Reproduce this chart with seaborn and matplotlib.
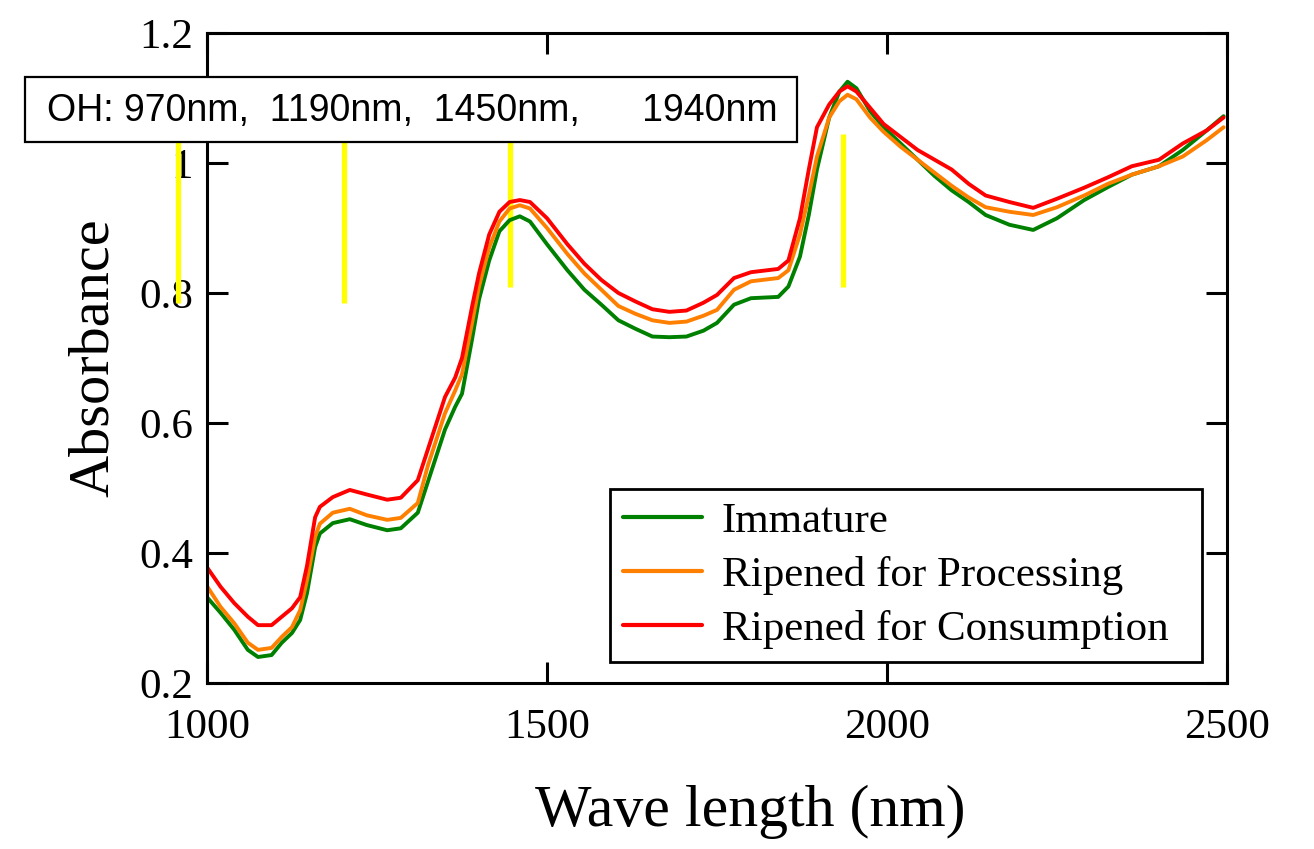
import matplotlib
matplotlib.use("Agg")
import matplotlib.pyplot as plt
from matplotlib.patches import Rectangle
import seaborn as sns
import pandas as pd

# ---- data ----
wavelength = [1000, 1020, 1040, 1060, 1075, 1095, 1110, 1125, 1137, 1147, 1159, 1166, 1185, 1210,
              1235, 1265, 1285, 1310, 1325, 1350, 1365, 1375, 1390, 1400, 1415, 1430, 1445, 1460,
              1475, 1500, 1530, 1555, 1580, 1605, 1630, 1655, 1680, 1705, 1730, 1750, 1775, 1800,
              1840, 1855, 1872, 1885, 1897, 1915, 1930, 1942, 1955, 1975, 1995, 2020, 2045, 2070,
              2095, 2120, 2145, 2180, 2215, 2250, 2290, 2325, 2360, 2400, 2435, 2470, 2495]

immature = [0.332, 0.308, 0.282, 0.251, 0.240, 0.243, 0.262, 0.277, 0.297, 0.338, 0.409, 0.430, 0.446, 0.452,
            0.443, 0.435, 0.438, 0.462, 0.510, 0.590, 0.625, 0.645, 0.730, 0.790, 0.850, 0.895, 0.912, 0.918,
            0.910, 0.875, 0.835, 0.805, 0.782, 0.758, 0.745, 0.733, 0.732, 0.733, 0.742, 0.754, 0.782, 0.792,
            0.794, 0.810, 0.856, 0.920, 0.990, 1.070, 1.110, 1.125, 1.115, 1.080, 1.055, 1.030, 1.005, 0.980,
            0.958, 0.940, 0.920, 0.905, 0.897, 0.915, 0.943, 0.963, 0.982, 0.995, 1.020, 1.050, 1.072]

ripened_processing = [0.349, 0.317, 0.292, 0.262, 0.251, 0.254, 0.271, 0.286, 0.312, 0.358, 0.425, 0.445, 0.462, 0.468,
                      0.458, 0.451, 0.454, 0.477, 0.535, 0.615, 0.650, 0.675, 0.755, 0.810, 0.870, 0.910, 0.930, 0.935,
                      0.930, 0.900, 0.860, 0.830, 0.805, 0.780, 0.768, 0.758, 0.754, 0.756, 0.765, 0.774, 0.805, 0.818,
                      0.823, 0.835, 0.890, 0.950, 1.010, 1.070, 1.095, 1.105, 1.098, 1.070, 1.048, 1.025, 1.005, 0.985,
                      0.965, 0.947, 0.932, 0.925, 0.920, 0.932, 0.950, 0.968, 0.982, 0.995, 1.010, 1.035, 1.055]

ripened_consumption = [0.378, 0.348, 0.323, 0.302, 0.289, 0.289, 0.302, 0.315, 0.332, 0.380, 0.455, 0.471, 0.486, 0.497,
                       0.490, 0.482, 0.485, 0.512, 0.560, 0.640, 0.670, 0.700, 0.780, 0.830, 0.890, 0.925, 0.940, 0.943,
                       0.940, 0.915, 0.875, 0.845, 0.820, 0.800, 0.787, 0.775, 0.771, 0.773, 0.785, 0.797, 0.823, 0.832,
                       0.837, 0.850, 0.915, 0.990, 1.055, 1.090, 1.110, 1.118, 1.110, 1.085, 1.060, 1.040, 1.020, 1.005,
                       0.990, 0.968, 0.950, 0.940, 0.931, 0.945, 0.962, 0.978, 0.995, 1.005, 1.030, 1.050, 1.070]

series_names = ["Immature", "Ripened for Processing", "Ripened for Consumption"]
series_colors = ["#008000", "#FF8000", "#FF0000"]

xticks = [1000, 1500, 2000, 2500]
yticks = [0.2, 0.4, 0.6, 0.8, 1.0, 1.2]
ytick_labels = ["0.2", "0.4", "0.6", "0.8", "1", "1.2"]

oh_marker_nm = [957, 1201, 1446, 1935]
oh_marker_bottom = [0.785, 0.785, 0.809, 0.809]
oh_marker_top = 1.045
oh_text = "OH: 970nm,  1190nm,  1450nm,      1940nm"

# ---- frame ----
frames = []
for name, vals in zip(series_names, [immature, ripened_processing, ripened_consumption]):
    frames.append(pd.DataFrame({"Wavelength": wavelength, "Absorbance": vals, "Sample": name}))
df = pd.concat(frames, ignore_index=True)

sns.set_theme(style="ticks")
plt.rcParams["font.family"] = ["Liberation Serif", "DejaVu Serif"]
plt.rcParams["text.color"] = "black"
plt.rcParams["axes.labelcolor"] = "black"

W, H = 1314, 849
fig = plt.figure(figsize=(W / 100, H / 100), dpi=100)
ax = fig.add_axes([207 / W, 1 - 683 / H, (1227 - 207) / W, (683 - 33) / H])

sns.lineplot(data=df, x="Wavelength", y="Absorbance", hue="Sample",
             hue_order=series_names, palette=dict(zip(series_names, series_colors)),
             linewidth=2.8, ax=ax, legend=True, sort=False, estimator=None)

# yellow OH markers
for xv, yb in zip(oh_marker_nm, oh_marker_bottom):
    ax.plot([xv, xv], [yb, oh_marker_top], color="#FFFF00", linewidth=3.8,
            clip_on=False, zorder=1, solid_capstyle="butt")

ax.set_xlim(1000, 2500)
ax.set_ylim(0.2, 1.2)
ax.set_xticks(xticks)
ax.set_xticklabels([str(v) for v in xticks])
ax.set_yticks(yticks)
ax.set_yticklabels(ytick_labels)

for s in ax.spines.values():
    s.set_visible(True)
    s.set_linewidth(2.2)
    s.set_color("black")

ax.tick_params(axis="both", which="major", direction="in", length=15, width=2.2,
               top=True, right=True, labelsize=31, colors="black")
ax.tick_params(axis="x", pad=18)
ax.tick_params(axis="y", pad=10)

ax.set_xlabel("Wave length (nm)", fontsize=43, color="black")
ax.xaxis.set_label_coords(0.533, -0.157)
ax.set_ylabel("Absorbance", fontsize=42, labelpad=14, color="black")

leg = ax.legend(loc="lower left", bbox_to_anchor=(0.395, 0.032, 0.5805, 0.26), mode="expand",
                borderaxespad=0, fontsize=31, frameon=True, fancybox=False, handlelength=1.85,
                handletextpad=0.45, labelspacing=0.35, borderpad=0.3)
leg.get_frame().set_edgecolor("black")
leg.get_frame().set_linewidth(2.0)
leg.get_frame().set_facecolor("white")
leg.get_frame().set_alpha(1)
for h in leg.get_lines():
    h.set_linewidth(3)
for t in leg.get_texts():
    t.set_color("black")

# annotation box
fig.patches.append(Rectangle((25 / W, 1 - 142 / H), (797 - 25) / W, (142 - 77) / H,
                             transform=fig.transFigure, facecolor="white", edgecolor="black",
                             linewidth=1.6, zorder=5))
fig.text(47 / W, 1 - 111 / H, oh_text, fontsize=27, family=["Liberation Sans", "DejaVu Sans"],
         va="center", ha="left", color="black", zorder=6)

fig.savefig("out.png", dpi=100)
